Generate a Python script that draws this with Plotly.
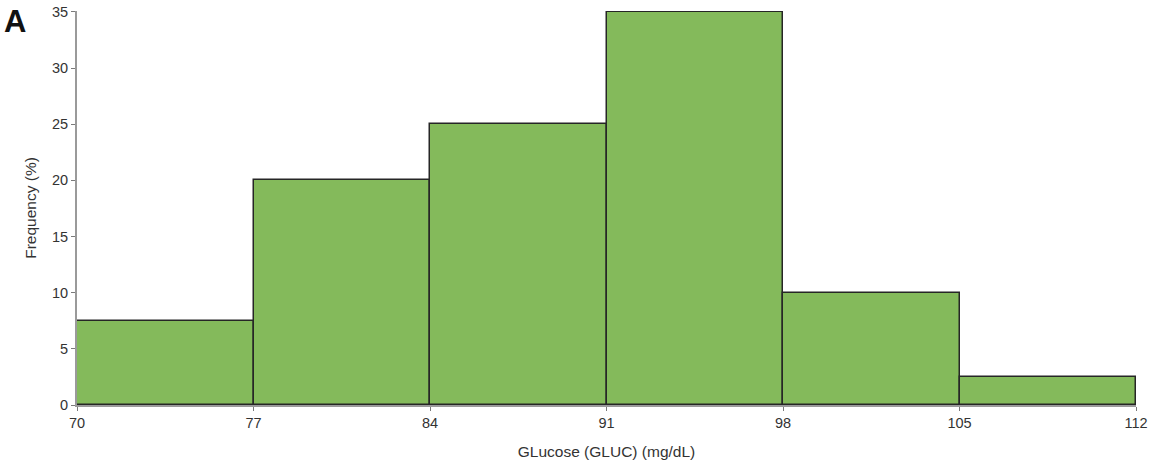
import plotly.graph_objects as go

bin_edges = [70, 77, 84, 91, 98, 105, 112]
frequency = [7.5, 20, 25, 35, 10, 2.5]
y_ticks = [0, 5, 10, 15, 20, 25, 30, 35]

centers = [(a + b) / 2 for a, b in zip(bin_edges[:-1], bin_edges[1:])]
widths = [b - a for a, b in zip(bin_edges[:-1], bin_edges[1:])]

fig = go.Figure(go.Bar(
    x=centers, y=frequency, width=widths,
    cliponaxis=False,
    marker=dict(color="#84BA5B", line=dict(color="#262626", width=1.5)),
))

font_tick = dict(family="Liberation Sans, Arial, sans-serif", size=14.5, color="#333333")
font_title = dict(family="Liberation Sans, Arial, sans-serif", size=15.5, color="#333333")
fig.update_layout(
    width=1151, height=464,
    margin=dict(l=77, r=15, t=11, b=59, autoexpand=False),
    paper_bgcolor="white", plot_bgcolor="white",
    showlegend=False,
    bargap=0,
    xaxis=dict(
        range=[bin_edges[0], bin_edges[-1]],
        tickvals=bin_edges, ticktext=[str(v) for v in bin_edges],
        showgrid=False, zeroline=False, automargin=False,
        showline=True, linecolor="#9a9a9a", linewidth=2,
        ticks="outside", ticklen=4, tickcolor="#7a7a7a",
        tickfont=font_tick,
        title=dict(text="GLucose (GLUC) (mg/dL)", font=font_title, standoff=16),
    ),
    yaxis=dict(
        range=[0, 35.08],
        tickvals=y_ticks,
        showgrid=False, zeroline=False, automargin=False,
        showline=True, linecolor="#9a9a9a", linewidth=2,
        ticks="outside", ticklen=4, tickcolor="#7a7a7a",
        tickfont=font_tick,
        title=dict(text="Frequency (%)", font=font_title, standoff=12),
    ),
    annotations=[dict(
        text="<b>A</b>", xref="paper", yref="paper",
        x=-77/1059, y=1.0, xanchor="left", yanchor="top",
        xshift=2, yshift=9,
        showarrow=False,
        font=dict(family="Liberation Sans, Arial, sans-serif", size=31, color="#111111"),
    )],
)

fig.write_html("out.html")
